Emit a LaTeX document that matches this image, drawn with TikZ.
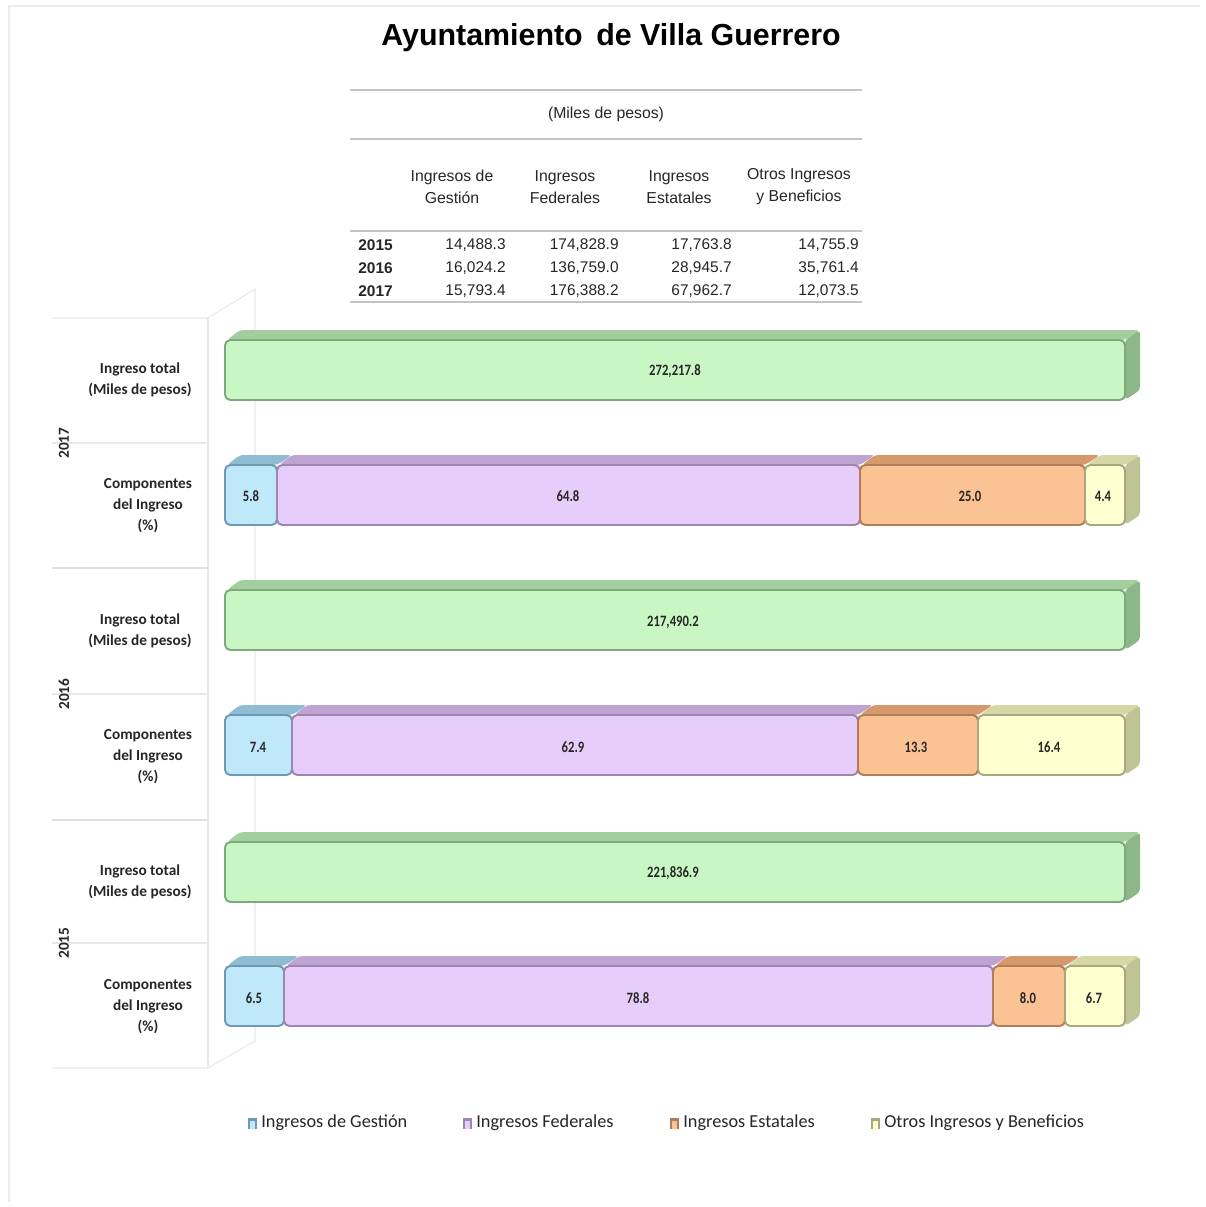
\documentclass[tikz,border=0pt]{standalone}
\usepackage{fontspec}
\setmainfont{Carlito}
\newfontfamily\arial{Liberation Sans}
\newfontfamily\condfont[FakeStretch=0.8]{Carlito}
\definecolor{gF}{HTML}{C9F7C4}\definecolor{gT}{HTML}{A3CF9F}\definecolor{gS}{HTML}{8CB889}\definecolor{gE}{HTML}{7FA87C}
\definecolor{bF}{HTML}{BFE9FB}\definecolor{bT}{HTML}{8FBCD2}\definecolor{bE}{HTML}{6E9AB0}
\definecolor{pF}{HTML}{E7CDF9}\definecolor{pT}{HTML}{BFA3D2}\definecolor{pE}{HTML}{9D86B0}
\definecolor{oF}{HTML}{FBC293}\definecolor{oT}{HTML}{D5996C}\definecolor{oE}{HTML}{B07E58}
\definecolor{yF}{HTML}{FFFFD0}\definecolor{yT}{HTML}{D6D6A6}\definecolor{yS}{HTML}{BFC396}\definecolor{yE}{HTML}{A8A880}
\definecolor{tline}{HTML}{C4C4C4}
\definecolor{txt}{HTML}{262626}
\newcommand\cubetop[4]{% x1 x2 y1 topcolor
  \fill[#4, rounded corners=2] (#1+2,#3) -- (#1+15,#3-10) -- (#2+15,#3-10) -- (#2,#3) -- cycle;}
\newcommand\cubefront[6]{% x1 x2 y1 y2 front edge
  \draw[fill=#5, draw=#6, line width=1.1pt, rounded corners=3] (#1,#3) rectangle (#2,#4);}
\newcommand\cubeside[4]{% x2 y1 y2 color
  \fill[#4, rounded corners=2] (#1,#2) -- (#1+15,#2-10) -- (#1+15,#3-10) -- (#1,#3) -- cycle;}
\begin{document}
\begin{tikzpicture}[x=0.02cm,y=-0.02cm,
  ttl/.style={font=\arial\bfseries\fontsize{17.3}{20}\selectfont, text=black},
  tbl/.style={font=\arial\fontsize{8.8}{10.5}\selectfont, text=txt, inner sep=0pt},
  tblh/.style={font=\arial\fontsize{9}{12.5}\selectfont, text=txt, align=center, inner sep=0pt},
  tbly/.style={font=\arial\bfseries\fontsize{8.8}{10.5}\selectfont, text=txt, inner sep=0pt},
  cat/.style={font=\bfseries\fontsize{8.7}{12}\selectfont, text=txt, align=center, inner sep=0pt},
  yr/.style={font=\bfseries\fontsize{8.7}{10}\selectfont, text=txt, rotate=90, inner sep=0pt},
  val/.style={font=\condfont\bfseries\fontsize{9}{10}\selectfont, text=txt, inner sep=0pt},
  leg/.style={font=\fontsize{10.4}{12}\selectfont, text=txt, anchor=west, inner sep=0pt},
  tl/.style={draw=tline, line width=1.1pt},
  faint/.style={draw=black!9, line width=0.6pt}]
\useasboundingbox (0,0) rectangle (1205,1207);
\fill[white] (0,0) rectangle (1205,1207);
\draw[black!8, line width=1.6pt] (9,1202) -- (9,6) -- (1200,6);
% Title
\node[ttl] (title) at (611,38) {Ayuntamiento\, de Villa Guerrero};
% Table
\draw[tl] (350,90) -- (862,90);
\node[tblh] (units) at (606,114) {(Miles de pesos)};
\draw[tl] (350,139) -- (862,139);
\node[tblh] (h1) at (452,187) {Ingresos de\\Gestión};
\node[tblh] (h2) at (565,187) {Ingresos\\Federales};
\node[tblh] (h3) at (679,187) {Ingresos\\Estatales};
\node[tblh] (h4) at (799,187) {Otros Ingresos\\y Beneficios};
\draw[tl, line width=1.5pt] (350,231) -- (862,231);
\node[tbly, anchor=west] (y15) at (358,245) {2015};
\node[tbly, anchor=west] (y16) at (358,268) {2016};
\node[tbly, anchor=west] (y17) at (358,291) {2017};
\node[tbl, anchor=east] (a15) at (506,245) {14,488.3};
\node[tbl, anchor=east] (b15) at (619,245) {174,828.9};
\node[tbl, anchor=east] (c15) at (732,245) {17,763.8};
\node[tbl, anchor=east] (d15) at (859,245) {14,755.9};
\node[tbl, anchor=east] (a16) at (506,268) {16,024.2};
\node[tbl, anchor=east] (b16) at (619,268) {136,759.0};
\node[tbl, anchor=east] (c16) at (732,268) {28,945.7};
\node[tbl, anchor=east] (d16) at (859,268) {35,761.4};
\node[tbl, anchor=east] (a17) at (506,291) {15,793.4};
\node[tbl, anchor=east] (b17) at (619,291) {176,388.2};
\node[tbl, anchor=east] (c17) at (732,291) {67,962.7};
\node[tbl, anchor=east] (d17) at (859,291) {12,073.5};
\draw[tl] (350,302) -- (862,302);
% Chart back wall
\draw[faint] (52,318) -- (208,318) -- (255,289) -- (255,1041) -- (208,1068) -- (52,1068);
\draw[faint] (208,318) -- (208,1068);
\foreach \yy in {443,694,943} \draw[faint] (52,\yy) -- (208,\yy);
\foreach \yy in {568,820} \draw[black!12, line width=1.2pt] (52,\yy) -- (208,\yy);
% Category labels
\node[yr] (yr17) at (64,443) {2017};
\node[yr] (yr16) at (64,694) {2016};
\node[yr] (yr15) at (64,943) {2015};
\foreach \yy/\nm in {380/t17,631/t16,882/t15} \node[cat] (l\nm) at (140,\yy) {Ingreso total\\(Miles de pesos)};
\foreach \yy/\nm in {506/c17,757/c16,1007/c15} \node[cat] (l\nm) at (148,\yy) {Componentes\\del Ingreso\\(\%)};
% 2017 total
\cubetop{225}{1125}{340}{gT}\cubeside{1125}{340}{400}{gS}\cubefront{225}{1125}{340}{400}{gF}{gE}
\node[val] (v17) at (675,371) {272,217.8};
% 2017 components
\cubetop{225}{277}{465}{bT}\cubetop{277}{860}{465}{pT}\cubetop{860}{1085}{465}{oT}\cubetop{1085}{1125}{465}{yT}
\cubeside{1125}{465}{525}{yS}
\cubefront{225}{277}{465}{525}{bF}{bE}\cubefront{277}{860}{465}{525}{pF}{pE}\cubefront{860}{1085}{465}{525}{oF}{oE}\cubefront{1085}{1125}{465}{525}{yF}{yE}
\node[val] (s17a) at (251,496) {5.8};
\node[val] (s17b) at (568,496) {64.8};
\node[val] (s17c) at (970,496) {25.0};
\node[val] (s17d) at (1103,496) {4.4};
% 2016 total
\cubetop{225}{1125}{590}{gT}\cubeside{1125}{590}{650}{gS}\cubefront{225}{1125}{590}{650}{gF}{gE}
\node[val] (v16) at (673,622) {217,490.2};
% 2016 components
\cubetop{225}{292}{715}{bT}\cubetop{292}{858}{715}{pT}\cubetop{858}{978}{715}{oT}\cubetop{978}{1125}{715}{yT}
\cubeside{1125}{715}{775}{yS}
\cubefront{225}{292}{715}{775}{bF}{bE}\cubefront{292}{858}{715}{775}{pF}{pE}\cubefront{858}{978}{715}{775}{oF}{oE}\cubefront{978}{1125}{715}{775}{yF}{yE}
\node[val] (s16a) at (258,747) {7.4};
\node[val] (s16b) at (573,747) {62.9};
\node[val] (s16c) at (916,747) {13.3};
\node[val] (s16d) at (1049,747) {16.4};
% 2015 total
\cubetop{225}{1125}{842}{gT}\cubeside{1125}{842}{902}{gS}\cubefront{225}{1125}{842}{902}{gF}{gE}
\node[val] (v15) at (673,873) {221,836.9};
% 2015 components
\cubetop{225}{284}{966}{bT}\cubetop{284}{993}{966}{pT}\cubetop{993}{1065}{966}{oT}\cubetop{1065}{1125}{966}{yT}
\cubeside{1125}{966}{1026}{yS}
\cubefront{225}{284}{966}{1026}{bF}{bE}\cubefront{284}{993}{966}{1026}{pF}{pE}\cubefront{993}{1065}{966}{1026}{oF}{oE}\cubefront{1065}{1125}{966}{1026}{yF}{yE}
\node[val] (s15a) at (254,998) {6.5};
\node[val] (s15b) at (638,998) {78.8};
\node[val] (s15c) at (1028,998) {8.0};
\node[val] (s15d) at (1094,998) {6.7};
% Legend
\foreach \xx/\cf/\ct in {248/bF/bE,463/pF/pE,670/oF/oE,871/yF/yE} {
  \fill[\ct] (\xx,1118) rectangle (\xx+9,1129);
  \fill[\cf] (\xx+2,1121) rectangle (\xx+7,1129);
}
\node[leg] (lg1) at (261,1123) {Ingresos de Gestión};
\node[leg] (lg2) at (476,1123) {Ingresos Federales};
\node[leg] (lg3) at (683,1123) {Ingresos Estatales};
\node[leg] (lg4) at (884,1123) {Otros Ingresos y Beneficios};
\end{tikzpicture}
\end{document}
